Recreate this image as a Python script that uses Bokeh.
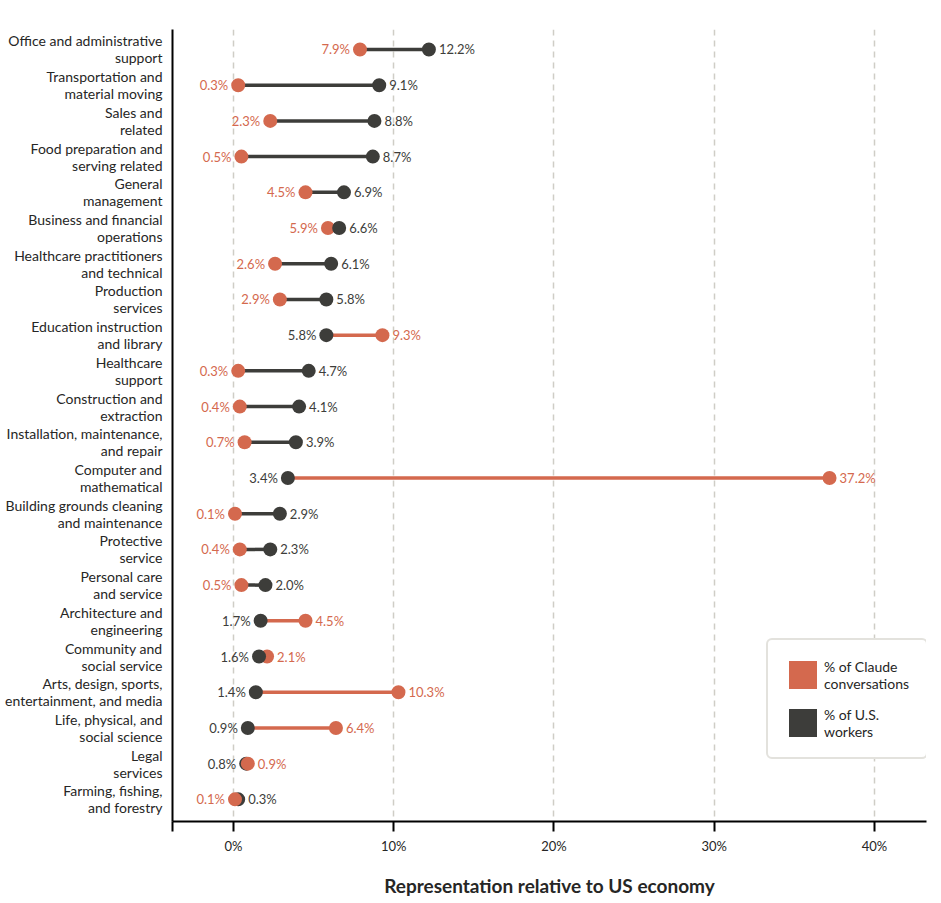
from bokeh.plotting import figure
from bokeh.models import Range1d, FixedTicker, ColumnDataSource, Legend, LegendItem, CustomJSTickFormatter
from bokeh.core.properties import value
from bokeh.embed import file_html
from bokeh.resources import INLINE

categories = [
    "Office and administrative\nsupport",
    "Transportation and\nmaterial moving",
    "Sales and\nrelated",
    "Food preparation and\nserving related",
    "General\nmanagement",
    "Business and financial\noperations",
    "Healthcare practitioners\nand technical",
    "Production\nservices",
    "Education instruction\nand library",
    "Healthcare\nsupport",
    "Construction and\nextraction",
    "Installation, maintenance,\nand repair",
    "Computer and\nmathematical",
    "Building grounds cleaning\nand maintenance",
    "Protective\nservice",
    "Personal care\nand service",
    "Architecture and\nengineering",
    "Community and\nsocial service",
    "Arts, design, sports,\nentertainment, and media",
    "Life, physical, and\nsocial science",
    "Legal\nservices",
    "Farming, fishing,\nand forestry",
]
claude_pct = [7.9, 0.3, 2.3, 0.5, 4.5, 5.9, 2.6, 2.9, 9.3, 0.3, 0.4, 0.7, 37.2, 0.1, 0.4, 0.5, 4.5, 2.1, 10.3, 6.4, 0.9, 0.1]
workers_pct = [12.2, 9.1, 8.8, 8.7, 6.9, 6.6, 6.1, 5.8, 5.8, 4.7, 4.1, 3.9, 3.4, 2.9, 2.3, 2.0, 1.7, 1.6, 1.4, 0.9, 0.8, 0.3]
x_ticks = [0, 10, 20, 30, 40]
legend_labels = ["% of Claude\nconversations", "% of U.S.\nworkers"]
axis_title = "Representation relative to US economy"

ORANGE = "#D4694E"
DARK = "#3D3D3A"
TEXT = "#262625"
GRID = "#CFCDC6"
FONT = "Lato"

X_MIN, X_MAX = -3.8, 43.25
n = len(categories)
rows = list(range(n))

p = figure(width=941, height=903, output_backend="svg", toolbar_location=None,
           x_range=Range1d(X_MIN, X_MAX), y_range=Range1d(n - 1 + 0.62, -0.56),
           min_border_left=172, min_border_right=15, min_border_top=29, min_border_bottom=82)
p.outline_line_color = None
p.background_fill_color = "white"

# segments
seg_colors = [ORANGE if c > w else DARK for c, w in zip(claude_pct, workers_pct)]
p.segment(x0=claude_pct, y0=rows, x1=workers_pct, y1=rows, line_color=seg_colors, line_width=3.5)

close = [abs(c - w) < 0.5 for c, w in zip(claude_pct, workers_pct)]
def sub(mask, vals):
    return [v for m, v in zip(mask, vals) if m]

not_close = [not m for m in close]
p.scatter(x=sub(not_close, claude_pct), y=sub(not_close, rows), size=14, fill_color=ORANGE, line_color=None)
p.scatter(x=workers_pct, y=rows, size=14, fill_color=DARK, line_color=None)
p.scatter(x=sub(close, claude_pct), y=sub(close, rows), size=14, fill_color=ORANGE, line_color=None)

# value labels
c_left = [c <= w for c, w in zip(claude_pct, workers_pct)]
lab = ColumnDataSource(dict(
    x=claude_pct + workers_pct,
    y=rows + rows,
    text=[f"{v:.1f}%" for v in claude_pct + workers_pct],
    color=[ORANGE] * n + [DARK] * n,
    align=["right" if l else "left" for l in c_left] + ["left" if l else "right" for l in c_left],
    off=[-10 if l else 10 for l in c_left] + [10 if l else -10 for l in c_left],
))
p.text(x="x", y="y", text="text", text_color="color", text_align="align", x_offset="off",
       text_baseline="middle", text_font=value(FONT), text_font_size="13px", source=lab)

# axes
p.xgrid.ticker = FixedTicker(ticks=x_ticks)
p.xgrid.grid_line_color = GRID
p.xgrid.grid_line_dash = "6 5"
p.xgrid.grid_line_width = 1.5
p.ygrid.grid_line_color = None

xa = p.xaxis[0]
xa.ticker = FixedTicker(ticks=[X_MIN] + x_ticks)
xa.formatter = CustomJSTickFormatter(code="return tick < -1 ? '' : tick.toFixed(0) + '%';")
xa.axis_line_width = 2
xa.axis_line_color = "black"
xa.major_tick_line_width = 2
xa.major_tick_line_color = "black"
xa.major_tick_in = 0
xa.major_tick_out = 10
xa.minor_tick_line_color = None
xa.major_label_text_font = FONT
xa.major_label_text_font_size = "13px"
xa.major_label_text_color = TEXT
xa.major_label_standoff = 6
xa.axis_label = axis_title
xa.axis_label_text_font = FONT
xa.axis_label_text_font_style = "bold"
xa.axis_label_text_font_size = "19px"
xa.axis_label_text_color = TEXT
xa.axis_label_standoff = 17

ya = p.yaxis[0]
ya.ticker = FixedTicker(ticks=rows)
ya.formatter = CustomJSTickFormatter(args=dict(labels=categories), code="return labels[Math.round(tick)];")
ya.axis_line_width = 2
ya.axis_line_color = "black"
ya.major_tick_line_color = None
ya.major_tick_out = 0
ya.major_tick_in = 0
ya.minor_tick_line_color = None
ya.major_label_text_font = FONT
ya.major_label_text_font_size = "14px"
ya.major_label_text_color = TEXT
ya.major_label_text_line_height = 1.0
ya.major_label_standoff = 10

# legend swatches: zero-size rects on the real data, used only for their legend glyphs
r1 = p.rect(x=claude_pct, y=rows, width=0, height=0, fill_color=ORANGE, line_color=None)
r2 = p.rect(x=workers_pct, y=rows, width=0, height=0, fill_color=DARK, line_color=None)
legend = Legend(items=[LegendItem(label=legend_labels[0], renderers=[r1], index=0),
                       LegendItem(label=legend_labels[1], renderers=[r2], index=0)],
                location=(594, 62), glyph_width=35, glyph_height=35,
                label_text_font=FONT, label_text_font_size="14px", label_text_color=TEXT,
                label_text_line_height=1.2, label_standoff=4, spacing=13, padding=17, margin=0,
                border_line_color="#C8C6BC", border_line_width=2, background_fill_alpha=1)
if "border_radius" in Legend.properties():
    legend.border_radius = 6
p.add_layout(legend)

open("out.html", "w").write(file_html(p, INLINE))
